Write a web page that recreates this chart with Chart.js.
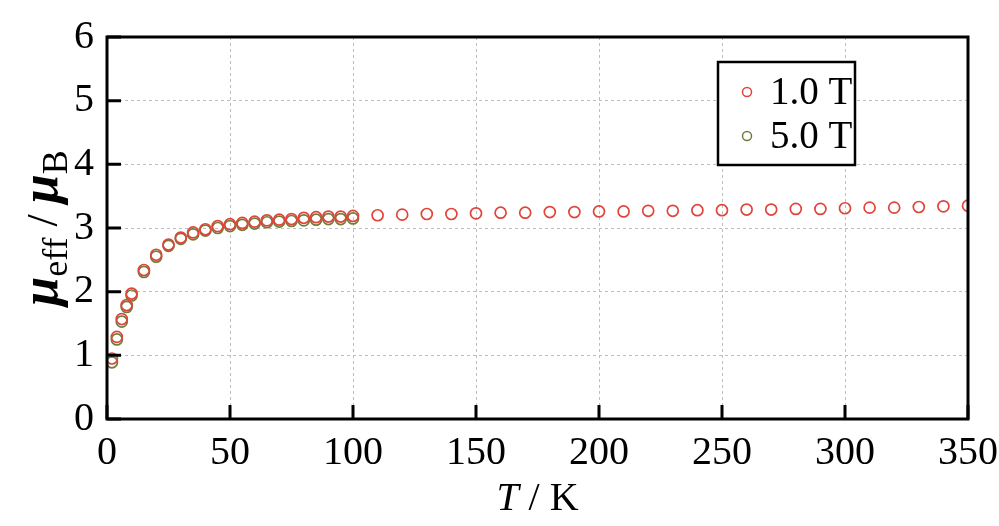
<!DOCTYPE html>
<html>
<head>
<meta charset="utf-8">
<script src="https://cdn.jsdelivr.net/npm/chart.js@4"></script>
<style>
  body { margin: 0; background: #fff; }
  #wrap { width: 999px; height: 526px; }
</style>
</head>
<body>
<div id="wrap"><canvas id="muChart" width="999" height="526"></canvas></div>
<script>
// temperatures (K)
const tempsLow = [2, 4, 6, 8, 10, 15, 20, 25, 30, 35, 40, 45, 50, 55, 60, 65, 70, 75, 80, 85, 90, 95, 100];
const tempsHigh = [110, 120, 130, 140, 150, 160, 170, 180, 190, 200, 210, 220, 230, 240, 250, 260, 270, 280, 290, 300, 310, 320, 330, 340, 350];

// mu_eff / mu_B
const mu1T = [0.95, 1.29, 1.57, 1.79, 1.97, 2.34, 2.58, 2.74, 2.85, 2.93, 2.98, 3.03, 3.06, 3.08, 3.10, 3.12, 3.13, 3.14, 3.16, 3.17, 3.18, 3.18, 3.19,
  3.20, 3.21, 3.22, 3.22, 3.23, 3.24, 3.24, 3.25, 3.25, 3.26, 3.26, 3.27, 3.27, 3.28, 3.28, 3.29, 3.29, 3.30, 3.30, 3.31, 3.32, 3.32, 3.33, 3.34, 3.35];
const mu5T = [0.89, 1.25, 1.53, 1.76, 1.94, 2.31, 2.55, 2.72, 2.83, 2.90, 2.96, 3.00, 3.03, 3.05, 3.07, 3.09, 3.10, 3.11, 3.12, 3.13, 3.14, 3.14, 3.15];

const seriesNames = ['1.0 T', '5.0 T'];
const seriesColors = ['#e0443a', '#6e7d3c'];

const xTicks = [0, 50, 100, 150, 200, 250, 300, 350];
const yTicks = [0, 1, 2, 3, 4, 5, 6];

const temps1T = tempsLow.concat(tempsHigh);
const serif = '"Liberation Serif", "Times New Roman", serif';

// frame, inward ticks, x tick labels, axis titles, legend
const decor = {
  id: 'decor',
  afterDraw(chart) {
    const ctx = chart.ctx;
    const a = chart.chartArea;
    const xs = chart.scales.x, ys = chart.scales.y;
    ctx.save();
    ctx.strokeStyle = '#000';
    ctx.lineWidth = 3;
    ctx.strokeRect(a.left, a.top, a.right - a.left, a.bottom - a.top);
    ctx.beginPath();
    xTicks.forEach(t => {
      const px = xs.getPixelForValue(t);
      ctx.moveTo(px, a.bottom);
      ctx.lineTo(px, a.bottom - 14);
    });
    yTicks.forEach(t => {
      const py = ys.getPixelForValue(t);
      ctx.moveTo(a.left, py);
      ctx.lineTo(a.left + 14, py);
    });
    ctx.stroke();

    // x tick labels
    ctx.fillStyle = '#000';
    ctx.font = '40px ' + serif;
    ctx.textAlign = 'center';
    ctx.textBaseline = 'alphabetic';
    xTicks.forEach(t => {
      ctx.fillText(String(t), xs.getPixelForValue(t), a.bottom + 45);
    });
    ctx.textAlign = 'left';

    // x title: T / K
    const cx = (a.left + a.right) / 2;
    ctx.font = 'italic 40px ' + serif;
    const wT = ctx.measureText('T').width;
    ctx.font = '40px ' + serif;
    const wRest = ctx.measureText(' / K').width;
    let x0 = cx - (wT + wRest) / 2;
    ctx.font = 'italic 40px ' + serif;
    ctx.fillText('T', x0, 510);
    ctx.font = '40px ' + serif;
    ctx.fillText(' / K', x0 + wT, 510);

    // y title: mu_eff / mu_B
    ctx.save();
    ctx.translate(57, (a.top + a.bottom) / 2);
    ctx.rotate(-Math.PI / 2);
    const parts = [
      { s: 'μ', f: 'bold italic 52px ' + serif, dy: 0 },
      { s: 'eff', f: '36px ' + serif, dy: 10 },
      { s: ' / ', f: '44px ' + serif, dy: 0 },
      { s: 'μ', f: 'bold italic 52px ' + serif, dy: 0 },
      { s: 'B', f: '36px ' + serif, dy: 10 }
    ];
    let total = 0;
    parts.forEach(p => { ctx.font = p.f; p.w = ctx.measureText(p.s).width; total += p.w; });
    let px = -total / 2;
    parts.forEach(p => { ctx.font = p.f; ctx.fillText(p.s, px, p.dy); px += p.w; });
    ctx.restore();

    // legend box
    const bx = 718, by = 62, bw = 137, bh = 103;
    ctx.fillStyle = '#fff';
    ctx.fillRect(bx, by, bw, bh);
    ctx.lineWidth = 2.5;
    ctx.strokeStyle = '#000';
    ctx.strokeRect(bx, by, bw, bh);
    ctx.font = '39px ' + serif;
    ctx.textBaseline = 'middle';
    seriesNames.forEach((name, i) => {
      const ly = by + 30 + i * 44;
      ctx.beginPath();
      ctx.lineWidth = 1.5;
      ctx.strokeStyle = seriesColors[i];
      ctx.arc(bx + 29, ly, 4.5, 0, Math.PI * 2);
      ctx.stroke();
      ctx.fillStyle = '#000';
      ctx.fillText(name, bx + 52, ly + 2);
    });
    ctx.restore();
  }
};

new Chart(document.getElementById('muChart'), {
  type: 'scatter',
  data: {
    datasets: [
      {
        label: seriesNames[0],
        data: temps1T.map((t, i) => ({ x: t, y: mu1T[i] })),
        borderColor: seriesColors[0],
        backgroundColor: 'rgba(0,0,0,0)',
        borderWidth: 1.7,
        pointRadius: 5.5,
        showLine: false
      },
      {
        label: seriesNames[1],
        data: tempsLow.map((t, i) => ({ x: t, y: mu5T[i] })),
        borderColor: seriesColors[1],
        backgroundColor: 'rgba(0,0,0,0)',
        borderWidth: 1.7,
        pointRadius: 5.5,
        showLine: false
      }
    ]
  },
  options: {
    responsive: false,
    animation: false,
    layout: { padding: { left: 0, right: 31, top: 27, bottom: 0 } },
    plugins: { legend: { display: false }, tooltip: { enabled: false } },
    scales: {
      x: {
        type: 'linear',
        min: 0, max: 350,
        afterBuildTicks: s => { s.ticks = xTicks.map(v => ({ value: v })); },
        afterFit: s => { s.height = 107; },
        grid: { color: '#bdbdbd', lineWidth: 1, drawTicks: false },
        border: { display: false, dash: [3, 3] },
        ticks: { display: false }
      },
      y: {
        min: 0, max: 6,
        afterBuildTicks: s => { s.ticks = yTicks.map(v => ({ value: v })); },
        afterFit: s => { s.width = 107; },
        grid: { color: '#bdbdbd', lineWidth: 1, drawTicks: false },
        border: { display: false, dash: [3, 3] },
        ticks: { color: '#000', font: { family: serif, size: 40 }, padding: 13 }
      }
    }
  },
  plugins: [decor]
});
</script>
</body>
</html>
